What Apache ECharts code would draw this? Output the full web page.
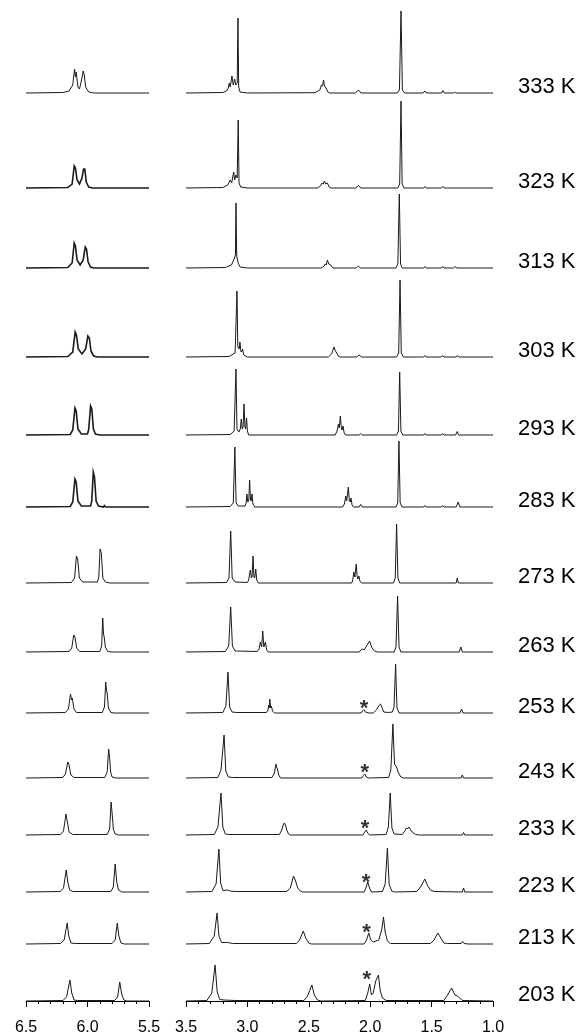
<!DOCTYPE html>
<html>
<head>
<meta charset="utf-8">
<script src="https://cdn.jsdelivr.net/npm/echarts@6/dist/echarts.min.js"></script>
<style>
  html, body { margin: 0; padding: 0; background: #fff; }
  #nmr { width: 582px; height: 1036px; }
</style>
</head>
<body>
<div id="nmr"></div>
<script>
// temperature of each trace, top to bottom
var temps = ['333 K', '323 K', '313 K', '303 K', '293 K', '283 K', '273 K', '263 K', '253 K', '243 K', '233 K', '223 K', '213 K', '203 K'];

// tick labels (ppm)
var leftTicks = [6.5, 6.0, 5.5];
var rightTicks = [3.5, 3.0, 2.5, 2.0, 1.5, 1.0];

// left window 6.5 - 5.5 ppm, points are [ppm, intensity]
var L333 = [[6.5,0],[6.2,0.5],[6.15,2],[6.12,8],[6.105,24],[6.098,16],[6.092,21],[6.078,6],[6.065,4],[6.045,15],[6.035,22],[6.026,18],[6.015,6],[5.99,1],[5.95,0],[5.5,0]];
var L323 = [[6.5,0],[6.16,0.5],[6.125,4],[6.108,22],[6.098,20],[6.085,8],[6.065,4],[6.045,10],[6.032,19],[6.022,19],[6.01,6],[5.99,1],[5.96,0],[5.5,0]];
var L313 = [[6.5,0],[6.16,0.5],[6.125,5],[6.108,25],[6.098,22],[6.085,8],[6.06,3],[6.035,8],[6.018,21],[6.008,19],[5.995,6],[5.975,1],[5.95,0],[5.5,0]];
var L303 = [[6.5,0],[6.16,0.5],[6.12,5],[6.1,25],[6.09,22],[6.075,8],[6.045,3],[6.015,8],[5.997,21],[5.985,19],[5.972,6],[5.95,1],[5.92,0],[5.5,0]];
var L293 = [[6.5,0],[6.14,0.5],[6.12,5],[6.102,27],[6.092,24],[6.078,6],[6.05,1],[6.0,1],[5.99,6],[5.975,29],[5.965,26],[5.952,6],[5.935,1],[5.9,0],[5.5,0]];
var L283 = [[6.5,0],[6.14,0.5],[6.12,5],[6.102,28],[6.092,25],[6.078,6],[6.05,1],[5.975,1],[5.965,6],[5.953,35],[5.943,30],[5.93,6],[5.91,1],[5.87,0],[5.862,1.5],[5.852,0],[5.5,0]];
var L273 = [[6.5,0],[6.13,0.5],[6.105,5],[6.09,27],[6.08,24],[6.066,5],[6.04,1],[5.92,1],[5.908,6],[5.898,34],[5.888,30],[5.875,5],[5.855,1],[5.82,0],[5.5,0]];
var L263 = [[6.5,0],[6.15,0.5],[6.128,4],[6.112,17],[6.102,15],[6.088,4],[6.065,0.5],[5.9,0.5],[5.885,6],[5.876,34],[5.87,18],[5.864,15],[5.855,5],[5.835,0.5],[5.8,0],[5.5,0]];
var L253 = [[6.5,0],[6.18,0.5],[6.155,4],[6.138,19],[6.13,13],[6.124,15],[6.11,4],[6.09,0.5],[5.88,0.5],[5.862,6],[5.852,31],[5.845,22],[5.84,20],[5.83,5],[5.81,0.5],[5.78,0],[5.5,0]];
var L243 = [[6.5,0],[6.2,0.5],[6.18,4],[6.16,16],[6.15,13],[6.135,3],[6.11,0.5],[5.86,0.5],[5.84,6],[5.828,29],[5.82,20],[5.812,6],[5.8,1],[5.77,0],[5.5,0]];
var L233 = [[6.5,0],[6.22,0.5],[6.195,4],[6.175,21],[6.165,14],[6.15,3],[6.12,0.5],[5.84,0.5],[5.82,6],[5.808,33],[5.8,22],[5.79,6],[5.775,1],[5.75,0],[5.5,0]];
var L223 = [[6.5,0],[6.22,0.5],[6.195,4],[6.173,22],[6.16,10],[6.145,2],[6.12,0.5],[5.81,0.5],[5.79,5],[5.775,28],[5.762,10],[5.748,2],[5.72,0],[5.5,0]];
var L213 = [[6.5,0],[6.22,0.5],[6.19,4],[6.165,21],[6.152,8],[6.135,1],[6.1,0.5],[5.8,0.5],[5.775,4],[5.758,21],[5.745,8],[5.728,1],[5.7,0],[5.5,0]];
var L203 = [[6.5,0],[6.2,0.5],[6.17,4],[6.143,21],[6.128,8],[6.11,1],[6.08,0.5],[5.78,0.5],[5.755,4],[5.738,19],[5.722,7],[5.705,1],[5.68,0],[5.5,0]];

// right window 3.5 - 1.0 ppm
var R333 = [[3.5,0],[3.2,0.5],[3.17,2],[3.155,5],[3.148,10],[3.14,6],[3.126,17],[3.115,8],[3.104,14],[3.095,8],[3.083,10],[3.077,75],[3.071,6],[3.06,1],[3.0,0],[2.45,0.3],[2.41,3],[2.397,8],[2.388,7],[2.38,13],[2.372,7],[2.36,5],[2.345,1],[2.33,0],[2.12,0],[2.096,3],[2.075,0],[1.78,0],[1.762,3],[1.749,82],[1.738,3],[1.72,0],[1.57,0],[1.554,2],[1.545,0],[1.42,0],[1.408,2.5],[1.398,0],[1.325,0],[1.313,1],[1.305,0],[1.0,0]];
var R323 = [[3.5,0],[3.2,0.5],[3.16,3],[3.14,8],[3.128,5],[3.112,16],[3.104,8],[3.093,13],[3.083,10],[3.075,68],[3.068,5],[3.055,1],[3.0,0],[2.43,0],[2.405,2],[2.392,5],[2.382,4],[2.373,7],[2.362,4],[2.348,5],[2.335,1],[2.32,0],[2.12,0],[2.096,2.5],[2.075,0],[1.775,0],[1.76,4],[1.749,87],[1.74,4],[1.725,0],[1.565,0],[1.554,1.5],[1.545,0],[1.42,0],[1.408,1.5],[1.398,0],[1.0,0]];
var R313 = [[3.5,0],[3.18,0.5],[3.13,3],[3.112,8],[3.104,10],[3.097,14],[3.093,65],[3.087,12],[3.075,5],[3.06,1],[3.0,0],[2.4,0],[2.375,2],[2.367,4],[2.358,3],[2.348,8],[2.338,4],[2.321,3],[2.305,0],[2.115,0],[2.096,2],[2.08,0],[1.79,0],[1.775,4],[1.763,74],[1.753,4],[1.74,0],[1.565,0],[1.554,1.5],[1.545,0],[1.42,0],[1.41,1.5],[1.4,0],[1.32,0],[1.307,1.5],[1.297,0],[1.0,0]];
var R303 = [[3.5,0],[3.15,0.5],[3.1,4],[3.085,66],[3.078,10],[3.066,8],[3.061,15],[3.052,5],[3.044,6],[3.039,8],[3.03,2],[3.0,0],[2.34,0],[2.315,3],[2.303,7],[2.294,10],[2.284,6],[2.277,5],[2.26,1],[2.245,0],[2.11,0],[2.09,2],[2.07,0],[1.785,0],[1.768,4],[1.757,77],[1.747,4],[1.73,0],[1.565,0],[1.554,1.5],[1.545,0],[1.42,0],[1.41,1.5],[1.4,0],[1.3,0],[1.29,1.5],[1.28,0],[1.0,0]];
var R293 = [[3.5,0],[3.14,0.5],[3.108,4],[3.093,66],[3.085,6],[3.07,3],[3.058,6],[3.05,16],[3.042,6],[3.035,8],[3.028,31],[3.02,8],[3.014,6],[3.007,17],[3.0,4],[2.99,0],[2.285,0],[2.27,4],[2.259,11],[2.252,7],[2.243,19],[2.235,7],[2.228,5],[2.221,9],[2.212,2],[2.2,0],[2.09,0],[2.078,1.5],[2.065,0],[1.785,0],[1.77,4],[1.76,63],[1.75,4],[1.735,0],[1.565,0],[1.555,1.5],[1.545,0],[1.42,0],[1.41,1.5],[1.4,0],[1.305,0],[1.291,3.5],[1.28,0],[1.0,0]];
var R283 = [[3.5,0],[3.14,0.5],[3.115,4],[3.102,60],[3.092,4],[3.075,1],[3.02,1],[3.01,4],[3.004,13],[2.996,5],[2.988,8],[2.982,27],[2.975,7],[2.969,6],[2.963,13],[2.955,3],[2.94,0],[2.225,0],[2.21,3],[2.199,11],[2.192,6],[2.178,20],[2.17,6],[2.162,5],[2.156,9],[2.148,2],[2.135,0],[2.09,0],[2.077,2.5],[2.065,0],[1.79,0],[1.776,4],[1.766,66],[1.756,4],[1.74,0],[1.565,0],[1.555,1.5],[1.545,0],[1.42,0],[1.41,1.5],[1.4,0],[1.3,0],[1.283,5],[1.27,0],[1.0,0]];
var R273 = [[3.5,0],[3.17,0.5],[3.15,5],[3.136,52],[3.124,5],[3.1,1],[3.0,0.5],[2.99,3],[2.976,13],[2.968,5],[2.962,6],[2.954,27],[2.947,6],[2.94,5],[2.932,14],[2.924,3],[2.91,0],[2.15,0],[2.142,3],[2.133,11],[2.125,6],[2.114,19],[2.106,6],[2.1,4],[2.092,7],[2.084,2],[2.07,0],[1.81,0],[1.796,5],[1.785,59],[1.774,5],[1.76,0],[1.3,0],[1.291,5],[1.282,0],[1.0,0]];
var R263 = [[3.5,0],[3.18,0.5],[3.152,6],[3.136,45],[3.122,6],[3.1,1],[3.08,1],[2.92,0.5],[2.905,3],[2.894,10],[2.884,5],[2.875,21],[2.866,5],[2.853,10],[2.843,2],[2.83,0],[2.09,0],[2.075,2],[2.065,3],[2.05,2],[2.03,6],[2.005,11],[1.985,4],[1.965,1],[1.94,0],[1.805,0],[1.79,5],[1.777,56],[1.765,5],[1.75,0],[1.275,0],[1.261,5],[1.25,0],[1.0,0]];
var R253 = [[3.5,0],[3.2,0.5],[3.175,7],[3.158,41],[3.145,6],[3.125,1],[3.09,0.5],[2.845,0.5],[2.832,3],[2.826,8],[2.822,5],[2.818,14],[2.81,5],[2.805,7],[2.795,2],[2.78,0],[2.075,0],[2.06,2.5],[2.052,3.5],[2.04,1],[2.01,0],[1.975,0],[1.95,3],[1.925,8],[1.916,9],[1.905,6],[1.89,1],[1.85,0.5],[1.82,1],[1.806,6],[1.793,49],[1.782,5],[1.765,0],[1.27,0],[1.255,4],[1.245,0],[1.0,0]];
var R243 = [[3.5,0],[3.24,0.5],[3.215,8],[3.19,43],[3.176,7],[3.155,1],[3.12,0.5],[2.8,0.5],[2.78,5],[2.768,14],[2.762,11],[2.755,9],[2.745,3],[2.73,0],[2.07,0],[2.055,2.5],[2.044,4],[2.032,1],[2.015,0],[1.85,0.5],[1.832,8],[1.815,54],[1.802,14],[1.785,11],[1.77,5],[1.75,1],[1.73,0],[1.26,0],[1.25,3],[1.24,0],[1.0,0]];
var R233 = [[3.5,0],[3.27,0.5],[3.24,8],[3.215,42],[3.2,8],[3.18,1],[3.15,0.5],[2.74,0.5],[2.72,5],[2.706,11],[2.698,12],[2.69,10],[2.68,5],[2.665,1],[2.65,0],[2.06,0],[2.045,3],[2.033,5],[2.02,2],[2.005,0],[1.87,0.5],[1.852,8],[1.837,42],[1.823,7],[1.805,1],[1.74,0.5],[1.718,4],[1.705,7],[1.698,6],[1.685,8],[1.67,5],[1.65,2],[1.63,0.5],[1.6,0],[1.25,0],[1.24,2.5],[1.23,0],[1.0,0]];
var R223 = [[3.5,0],[3.29,0.5],[3.255,8],[3.232,43],[3.218,9],[3.2,1.5],[3.16,2],[3.14,1],[3.1,0.5],[2.68,0.5],[2.65,4],[2.625,16],[2.61,12],[2.59,4],[2.57,1],[2.55,0],[2.05,0],[2.035,4],[2.02,10],[2.005,4],[1.99,0],[1.9,0.5],[1.878,8],[1.86,44],[1.846,8],[1.825,1],[1.8,0],[1.62,0.5],[1.59,5],[1.555,13],[1.535,7],[1.51,2],[1.48,0.5],[1.25,0],[1.24,4],[1.23,0],[1.0,0]];
var R213 = [[3.5,0],[3.31,0.5],[3.27,8],[3.247,31],[3.232,8],[3.21,1.5],[3.16,1.5],[3.12,0.5],[2.6,0.5],[2.575,4],[2.545,13],[2.525,6],[2.5,1],[2.48,0],[2.05,0],[2.03,4],[2.012,11],[1.995,4],[1.975,2],[1.93,4],[1.905,15],[1.892,27],[1.878,12],[1.86,3],[1.835,0.5],[1.51,0.5],[1.48,4],[1.45,11],[1.43,7],[1.4,1],[1.37,0.5],[1.26,0.5],[1.248,2.5],[1.235,0.5],[1.2,0],[1.0,0]];
var R203 = [[3.5,0],[3.33,0.5],[3.29,8],[3.263,36],[3.246,9],[3.225,1.5],[3.19,1],[3.1,0.5],[2.54,0.5],[2.51,5],[2.475,16],[2.455,6],[2.43,1],[2.4,0],[2.04,0.5],[2.02,8],[2.004,17],[1.99,6],[1.975,8],[1.955,20],[1.933,26],[1.918,10],[1.9,3],[1.87,0.5],[1.4,0.5],[1.37,6],[1.337,13],[1.31,6],[1.29,5],[1.27,3],[1.25,0.5],[1.0,0]];

// asterisks (253 K ... 203 K) over the ~2.0 ppm peak: [ppm, height]
var starTemps = ['253 K', '243 K', '233 K', '223 K', '213 K', '203 K'];
var starPts = [[2.05, 10], [2.045, 11], [2.043, 12], [2.033, 15], [2.03, 17], [2.028, 27]];

var leftRows = [L333, L323, L313, L303, L293, L283, L273, L263, L253, L243, L233, L223, L213, L203];
var rightRows = [R333, R323, R313, R303, R293, R283, R273, R263, R253, R243, R233, R223, R213, R203];

// layout: pixel baseline of each trace
var baseY = [93, 188, 268, 357, 435, 507, 583, 652, 713, 778, 835, 892, 944, 1001];
var rowH = 90;
var ink = '#1a1a1a';
var noisy = ['323 K', '313 K', '303 K', '293 K', '283 K'];

var chart = echarts.init(document.getElementById('nmr'), null, {renderer: 'canvas'});

var grids = [], xAxes = [], yAxes = [], series = [], graphics = [];
var last = temps.length - 1;

function axisFor(gi, lo, hi, isLast) {
    return {
        gridIndex: gi, type: 'value', min: lo, max: hi, interval: 0.5, inverse: true,
        show: isLast, offset: 9,
        axisLine: {show: true, lineStyle: {color: '#000', width: 1}},
        axisTick: {show: true, length: 6, lineStyle: {color: '#000'}},
        minorTick: {show: true, splitNumber: 5, length: 3, lineStyle: {color: '#000'}},
        splitLine: {show: false},
        axisLabel: {show: true, margin: 10, fontSize: 16, color: '#000', fontFamily: 'Liberation Sans, Arial, sans-serif',
            formatter: function (v) { return v.toFixed(1); }}
    };
}

// whole trace as one polyline through the axis scales (line series drops very short segments)
function trace(gi, pts, width) {
    return {
        type: 'custom', coordinateSystem: 'cartesian2d', xAxisIndex: gi, yAxisIndex: gi,
        data: pts, clip: false, silent: true,
        renderItem: function (params, api) {
            if (params.dataIndex !== 0) return null;
            return {
                type: 'polyline',
                shape: {points: pts.map(function (p) { return api.coord(p); })},
                style: {stroke: ink, lineWidth: width, fill: null, lineJoin: 'miter'}
            };
        }
    };
}

temps.forEach(function (t, i) {
    var top = baseY[i] - rowH;
    var gl = i * 2, gr = i * 2 + 1;
    grids.push({left: 26, width: 123, top: top, height: rowH});
    grids.push({left: 186, width: 307, top: top, height: rowH});
    xAxes.push(axisFor(gl, leftTicks[2], leftTicks[0], i === last));
    xAxes.push(axisFor(gr, rightTicks[5], rightTicks[0], i === last));
    yAxes.push({gridIndex: gl, min: 0, max: rowH, show: false});
    yAxes.push({gridIndex: gr, min: 0, max: rowH, show: false});

    series.push(trace(gl, leftRows[i], noisy.indexOf(t) >= 0 ? 1.6 : 1));
    series.push(trace(gr, rightRows[i], 1));

    var s = starTemps.indexOf(t);
    if (s >= 0) {
        series.push({type: 'scatter', xAxisIndex: gr, yAxisIndex: gr, data: [starPts[s]], symbolSize: 1, silent: true,
            itemStyle: {color: 'rgba(0,0,0,0)'},
            label: {show: true, position: 'inside', formatter: '*', fontSize: 22, fontWeight: 'bold', color: '#000',
                fontFamily: 'Liberation Sans, Arial, sans-serif', offset: [0, 6]}});
    }

    graphics.push({type: 'text', left: 518, top: baseY[i] - 6 - 11,
        style: {text: t, fontSize: 22, fill: '#000', fontFamily: 'Liberation Sans, Arial, sans-serif'}});
});

chart.setOption({
    animation: false,
    backgroundColor: '#fff',
    grid: grids,
    xAxis: xAxes,
    yAxis: yAxes,
    series: series,
    graphic: graphics
});
</script>
</body>
</html>
